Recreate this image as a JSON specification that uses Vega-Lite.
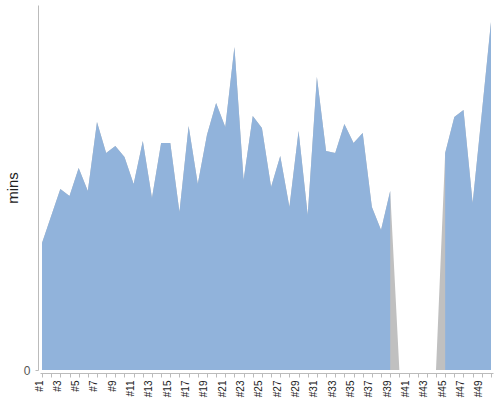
{
  "$schema": "https://vega.github.io/schema/vega-lite/v6.json",
  "width": 453,
  "height": 365,
  "autosize": "none",
  "padding": {"left": 40, "top": 5, "right": 7, "bottom": 30},
  "config": {
    "view": {"stroke": null},
    "font": "Liberation Sans",
    "axis": {"grid": false, "domainColor": "#bbbbbb", "tickColor": "#bbbbbb"}
  },
  "data": {
    "values": [
      {"run": "#1", "mins": 127}, {"run": "#2", "mins": 154}, {"run": "#3", "mins": 181},
      {"run": "#4", "mins": 174}, {"run": "#5", "mins": 202}, {"run": "#6", "mins": 179},
      {"run": "#7", "mins": 248}, {"run": "#8", "mins": 217}, {"run": "#9", "mins": 224},
      {"run": "#10", "mins": 213}, {"run": "#11", "mins": 186}, {"run": "#12", "mins": 229},
      {"run": "#13", "mins": 172}, {"run": "#14", "mins": 227}, {"run": "#15", "mins": 227},
      {"run": "#16", "mins": 158}, {"run": "#17", "mins": 244}, {"run": "#18", "mins": 186},
      {"run": "#19", "mins": 235}, {"run": "#20", "mins": 267}, {"run": "#21", "mins": 243},
      {"run": "#22", "mins": 323}, {"run": "#23", "mins": 190}, {"run": "#24", "mins": 254},
      {"run": "#25", "mins": 242}, {"run": "#26", "mins": 183}, {"run": "#27", "mins": 214},
      {"run": "#28", "mins": 163}, {"run": "#29", "mins": 239}, {"run": "#30", "mins": 155},
      {"run": "#31", "mins": 293}, {"run": "#32", "mins": 219}, {"run": "#33", "mins": 217},
      {"run": "#34", "mins": 246}, {"run": "#35", "mins": 227}, {"run": "#36", "mins": 237},
      {"run": "#37", "mins": 163}, {"run": "#38", "mins": 140}, {"run": "#39", "mins": 179},
      {"run": "#40", "mins": null}, {"run": "#41", "mins": null}, {"run": "#42", "mins": null},
      {"run": "#43", "mins": null}, {"run": "#44", "mins": null}, {"run": "#45", "mins": 217},
      {"run": "#46", "mins": 253}, {"run": "#47", "mins": 260}, {"run": "#48", "mins": 167},
      {"run": "#49", "mins": 257}, {"run": "#50", "mins": 348}
    ]
  },
  "encoding": {
    "x": {
      "field": "run", "type": "ordinal", "sort": null,
      "scale": {"type": "point", "padding": 0.22},
      "axis": {
        "title": null, "labelAngle": -90, "labelFontSize": 10, "labelColor": "#222222",
        "labelBaseline": "alphabetic", "labelAlign": "right", "labelPadding": 3,
        "tickSize": 4, "offset": 3,
        "labelExpr": "toNumber(substring(datum.label, 1)) % 2 == 1 ? datum.label : ''"
      }
    },
    "y": {
      "field": "mins", "type": "quantitative",
      "scale": {"domain": [0, 365], "nice": false},
      "axis": {
        "title": "mins", "titleFontSize": 15, "titleFontWeight": "normal", "titleColor": "#222222",
        "titlePadding": 3, "values": [0], "labelFontSize": 12, "labelColor": "#555555",
        "tickSize": 3, "labelPadding": 5, "offset": 2
      }
    }
  },
  "layer": [
    {"mark": {"type": "area", "color": "#c0c0c0", "invalid": "show"}},
    {"mark": {"type": "area", "color": "#91b3db", "opacity": 1, "invalid": "break-paths-show-domains"}}
  ]
}
